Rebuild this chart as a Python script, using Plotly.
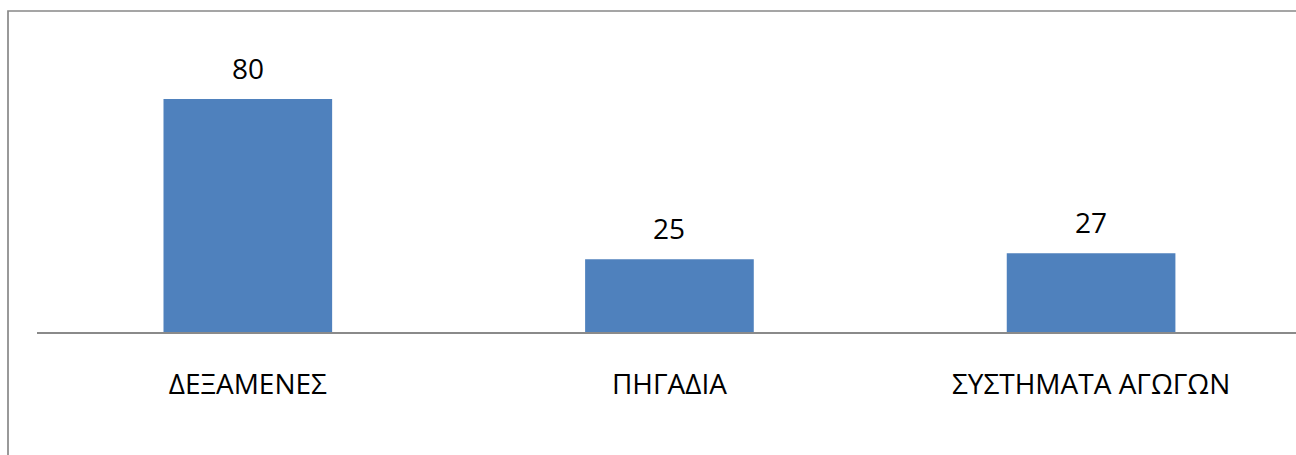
import plotly.graph_objects as go

categories = ["ΔΕΞΑΜΕΝΕΣ", "ΠΗΓΑΔΙΑ", "ΣΥΣΤΗΜΑΤΑ ΑΓΩΓΩΝ"]
values = [80, 25, 27]

FONT = "Open Sans"
FS = 28
fig = go.Figure()
fig.add_trace(go.Bar(x=categories, y=values, marker=dict(color="#4F81BD", line=dict(width=0)),
                     hoverinfo="x+y"))

for c, v in zip(categories, values):
    fig.add_annotation(x=c, y=v, text=str(v), showarrow=False, yanchor="bottom",
                       yshift=10, font=dict(family=FONT, size=FS, color="#000000"))

W, H = 1296, 455
L, T, B = 37, 11, 123
fig.update_layout(
    width=W, height=H,
    margin=dict(l=L, r=0, t=T, b=B, pad=0),
    paper_bgcolor="white", plot_bgcolor="white",
    bargap=0.6, showlegend=False,
    font=dict(family=FONT, size=FS, color="#000000"),
    xaxis=dict(range=[-0.5, 2.486], showline=True, linecolor="#8a8a8a", linewidth=1.5,
               showgrid=False, zeroline=False, ticks="", ticklabelstandoff=27,
               tickfont=dict(family=FONT, size=FS, color="#000000")),
    yaxis=dict(range=[0, 110.2], showgrid=False, zeroline=False, showticklabels=False,
               showline=False),
    shapes=[dict(type="rect", xref="paper", yref="paper",
                 x0=(8 - L) / (W - L), x1=1.2, y0=-1.0, y1=1.0,
                 line=dict(color="#888888", width=1.7), fillcolor="rgba(0,0,0,0)", layer="below")],
)

fig.write_html("out.html", config={"displayModeBar": False},
               post_script="document.body.style.margin='0';document.body.style.overflow='hidden';")
